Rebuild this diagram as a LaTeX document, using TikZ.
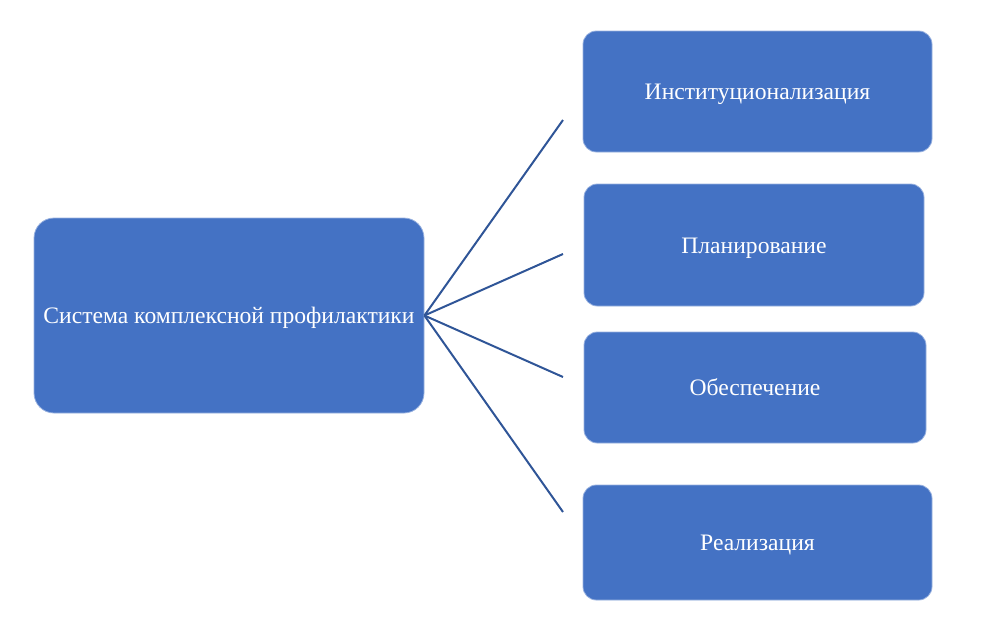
\documentclass[tikz,border=0pt]{standalone}
\usepackage{fontspec}
\setmainfont{Liberation Serif}
\usetikzlibrary{positioning}
\definecolor{boxBlue}{HTML}{4472C4}
\definecolor{lineBlue}{HTML}{2F5597}
\tikzset{
  mainBox/.style={rectangle, rounded corners=15pt, fill=boxBlue,
                  draw=boxBlue!55!white, line width=0.6pt, text=white,
                  font=\fontsize{17.7}{21}\selectfont, inner sep=2pt,
                  text height=12pt, text depth=0pt},
  stageBox/.style={rectangle, rounded corners=10pt, fill=boxBlue,
                   draw=boxBlue!55!white, line width=0.6pt, text=white,
                   font=\fontsize{17.7}{21}\selectfont, inner sep=2pt,
                   text height=12pt, text depth=0pt},
  link/.style={draw=lineBlue, line width=1.5pt},
}
\begin{document}
\begin{tikzpicture}[x=0.75pt, y=-0.75pt]
    \useasboundingbox (0,0) rectangle (982,626);
    \node[mainBox, minimum width=292.5pt, minimum height=146.25pt]
      (sys) at (229,315.5) {Система комплексной профилактики};
    \foreach \n/\cx/\cy/\w/\h/\lbl in {
        inst/757.5/91.5/261.75/90.75/Институционализация,
        plan/754/245/255/91.5/Планирование,
        supp/755/387.5/256.5/83.25/Обеспечение,
        real/757.5/542.5/261.75/86.25/Реализация}{
      \node[stageBox, minimum width=\w pt, minimum height=\h pt]
        (\n) at (\cx,\cy) {\lbl};
    }
    \coordinate (e1) at (563,120);
    \coordinate (e2) at (563,254);
    \coordinate (e3) at (563,377);
    \coordinate (e4) at (563,512);
    \foreach \e in {e1,e2,e3,e4}{
      \draw[link] (sys.east) -- (\e);
    }
\end{tikzpicture}
\end{document}
